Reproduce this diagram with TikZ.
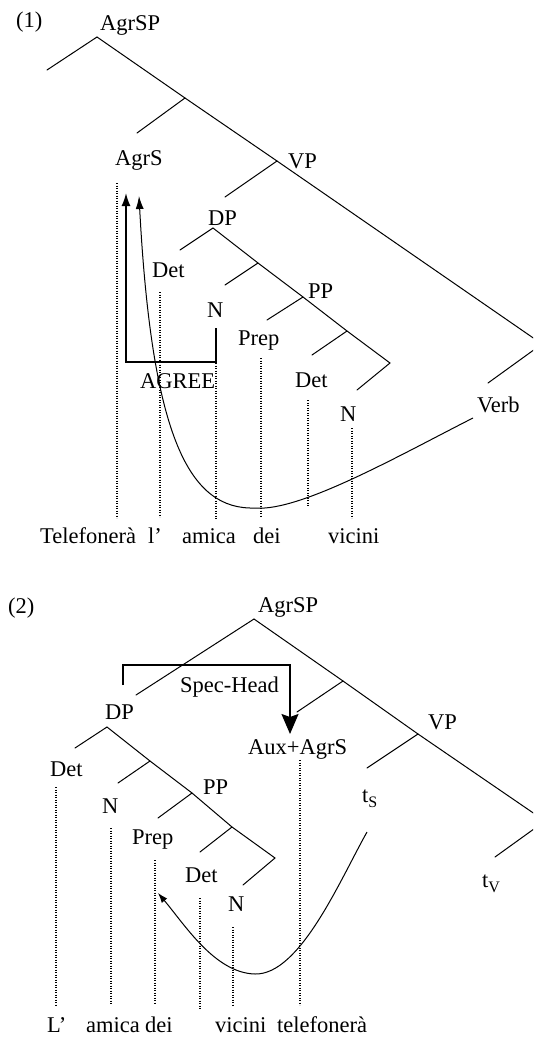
\documentclass[tikz,border=0pt]{standalone}
\usepackage{fontspec}
\setmainfont{Liberation Serif}
\usetikzlibrary{arrows.meta}
\newcommand{\tsub}[1]{t\raisebox{-5pt}{\fontsize{16}{16}\selectfont #1}}
\begin{document}
\begin{tikzpicture}[x=1pt,y=-1pt,
  lab/.style={anchor=base west, inner sep=0pt, font=\fontsize{22.5}{27}\selectfont},
  branch/.style={line width=1pt, line cap=round},
  guide/.style={line width=1.4pt, dash pattern=on 1.4pt off 1.1pt},
  movebox/.style={line width=1.6pt},
  movecurve/.style={line width=1pt}]
\useasboundingbox (0,0) rectangle (533,1039);
\clip (0,0) rectangle (533,1039);

%% ===================== Tree (1) =====================
\node[lab] (n1) at (16,27) {(1)};
\node[lab] (a1root) at (100,30) {AgrSP};
\node[lab] (a1agrs) at (115,165) {AgrS};
\node[lab] (a1vp) at (288,168) {VP};
\node[lab] (a1dp) at (208,225) {DP};
\node[lab] (a1det) at (152,277) {Det};
\node[lab] (a1n) at (207,317) {N};
\node[lab] (a1pp) at (308,298) {PP};
\node[lab] (a1prep) at (238,345) {Prep};
\node[lab] (a1det2) at (295,387) {Det};
\node[lab] (a1n2) at (340,421) {N};
\node[lab] (a1verb) at (477,412) {Verb};
\node[lab] (a1agree) at (140,388) {AGREE};
\node[lab] (w1a) at (40,543) {Telefonerà};
\node[lab] (w1b) at (148,543) {l’};
\node[lab] (w1c) at (182,543) {amica};
\node[lab] (w1d) at (253,543) {dei};
\node[lab] (w1e) at (328,543) {vicini};

\coordinate (t1root) at (97,37);
\coordinate (t1spec) at (47,70);
\coordinate (t1bar) at (185,98);
\coordinate (t1agrs) at (137,133);
\coordinate (t1vp) at (277,161);
\coordinate (t1vtop) at (542,344);
\coordinate (t1verb) at (488,383);
\coordinate (t1dpE) at (225,197);
\coordinate (t1dp) at (213,228);
\coordinate (t1det) at (180,250);
\coordinate (t1nbar) at (258,263);
\coordinate (t1n) at (225,285);
\coordinate (t1pp) at (303,297);
\coordinate (t1prep) at (267,320);
\coordinate (t1ppbar) at (347,331);
\coordinate (t1det2) at (312,355);
\coordinate (t1ppE) at (390,363);
\coordinate (t1n2) at (357,390);

\draw[branch] (t1spec) -- (t1root) -- (t1bar) -- (t1vp) -- (t1vtop) -- (t1verb);
\draw[branch] (t1bar) -- (t1agrs);
\draw[branch] (t1vp) -- (t1dpE);
\draw[branch] (t1det) -- (t1dp) -- (t1nbar) -- (t1pp) -- (t1ppbar) -- (t1ppE) -- (t1n2);
\draw[branch] (t1nbar) -- (t1n);
\draw[branch] (t1pp) -- (t1prep);
\draw[branch] (t1ppbar) -- (t1det2);

% dotted guides
\coordinate (g1at) at (117,183); \coordinate (g1ab) at (117,518);
\coordinate (g1bt) at (160,292); \coordinate (g1bb) at (160,517);
\coordinate (g1ct) at (216,363); \coordinate (g1cb) at (216,519);
\coordinate (g1dt) at (261,358); \coordinate (g1db) at (261,517);
\coordinate (g1et) at (308,400); \coordinate (g1eb) at (308,507);
\coordinate (g1ft) at (352,428); \coordinate (g1fb) at (352,518);
\draw[guide] (g1at) -- (g1ab);
\draw[guide] (g1bt) -- (g1bb);
\draw[guide] (g1ct) -- (g1cb);
\draw[guide] (g1dt) -- (g1db);
\draw[guide] (g1et) -- (g1eb);
\draw[guide] (g1ft) -- (g1fb);

% AGREE movement
\coordinate (ag0) at (216,328);
\coordinate (ag1) at (216,362);
\coordinate (ag2) at (126,362);
\coordinate (ag3) at (126,193);
\draw[movebox, -{Latex[length=13pt,width=9pt]}] (ag0) -- (ag1) -- (ag2) -- (ag3);

% verb movement curve
\coordinate (vm0) at (473,418);
\coordinate (vm1) at (255,508);
\coordinate (vm2) at (139,196);
\draw[movecurve, -{Latex[length=13pt,width=8pt]}] (vm0) .. controls (400,455) and (300,512) .. (vm1)
   .. controls (190,510) and (152,440) .. (vm2);

%% ===================== Tree (2) =====================
\node[lab] (n2) at (8,613) {(2)};
\node[lab] (a2root) at (258,612) {AgrSP};
\node[lab] (a2spec) at (180,692) {Spec-Head};
\node[lab] (a2dp) at (105,719) {DP};
\node[lab] (a2aux) at (248,754) {Aux+AgrS};
\node[lab] (a2vp) at (428,729) {VP};
\node[lab] (a2det) at (50,776) {Det};
\node[lab] (a2n) at (102,813) {N};
\node[lab] (a2pp) at (203,794) {PP};
\node[lab] (a2prep) at (132,844) {Prep};
\node[lab] (a2det2) at (185,882) {Det};
\node[lab] (a2n2) at (228,911) {N};
\node[lab] (a2ts) at (362,802) {\tsub{S}};
\node[lab] (a2tv) at (482,887) {\tsub{V}};
\node[lab] (w2a) at (47,1032) {L’};
\node[lab] (w2b) at (86,1032) {amica};
\node[lab] (w2c) at (145,1032) {dei};
\node[lab] (w2d) at (215,1032) {vicini};
\node[lab] (w2e) at (277,1032) {telefonerà};

\coordinate (t2root) at (254,619);
\coordinate (t2dpE) at (136,695);
\coordinate (t2bar) at (343,681);
\coordinate (t2auxE) at (297,712);
\coordinate (t2vp) at (418,734);
\coordinate (t2tsE) at (367,768);
\coordinate (t2vtop) at (545,821);
\coordinate (t2tv) at (495,857);
\coordinate (t2dp) at (107,727);
\coordinate (t2det) at (75,748);
\coordinate (t2nbar) at (150,761);
\coordinate (t2n) at (118,783);
\coordinate (t2pp) at (192,793);
\coordinate (t2prep) at (158,818);
\coordinate (t2ppbar) at (232,827);
\coordinate (t2det2) at (200,852);
\coordinate (t2ppE) at (275,858);
\coordinate (t2n2) at (243,885);

\draw[branch] (t2dpE) -- (t2root) -- (t2bar) -- (t2vp) -- (t2vtop) -- (t2tv);
\draw[branch] (t2bar) -- (t2auxE);
\draw[branch] (t2vp) -- (t2tsE);
\draw[branch] (t2det) -- (t2dp) -- (t2nbar) -- (t2pp) -- (t2ppbar) -- (t2ppE) -- (t2n2);
\draw[branch] (t2nbar) -- (t2n);
\draw[branch] (t2pp) -- (t2prep);
\draw[branch] (t2ppbar) -- (t2det2);

% dotted guides
\coordinate (g2at) at (56,787);  \coordinate (g2ab) at (56,1005);
\coordinate (g2bt) at (111,828); \coordinate (g2bb) at (111,1005);
\coordinate (g2ct) at (155,860); \coordinate (g2cb) at (155,1003);
\coordinate (g2dt) at (200,898); \coordinate (g2db) at (200,1010);
\coordinate (g2et) at (233,927); \coordinate (g2eb) at (233,1005);
\coordinate (g2ft) at (300,760); \coordinate (g2fb) at (300,1005);
\draw[guide] (g2at) -- (g2ab);
\draw[guide] (g2bt) -- (g2bb);
\draw[guide] (g2ct) -- (g2cb);
\draw[guide] (g2dt) -- (g2db);
\draw[guide] (g2et) -- (g2eb);
\draw[guide] (g2ft) -- (g2fb);

% Spec-Head
\coordinate (sh0) at (123,685);
\coordinate (sh1) at (123,665);
\coordinate (sh2) at (290,665);
\coordinate (sh3) at (290,734);
\draw[movebox, -{Stealth[length=20pt,width=17pt,inset=3pt]}] (sh0) -- (sh1) -- (sh2) -- (sh3);

% subject trace movement
\coordinate (sm0) at (367,832);
\coordinate (sm1) at (255,974);
\coordinate (sm2) at (158,893);
\draw[movecurve, -{Latex[length=10pt,width=7pt]}] (sm0) .. controls (340,880) and (300,975) .. (sm1)
   .. controls (215,973) and (185,925) .. (sm2);
\end{tikzpicture}
\end{document}
